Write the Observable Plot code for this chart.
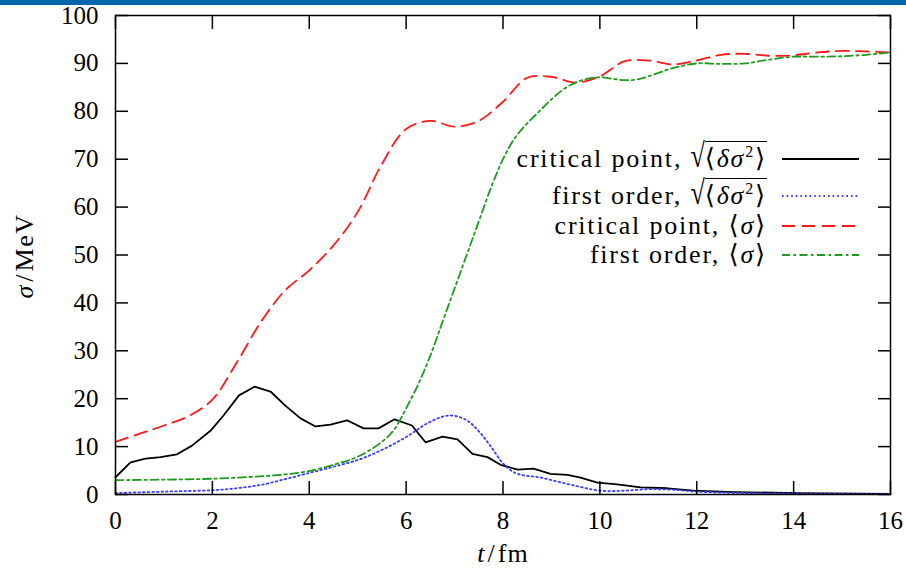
<!DOCTYPE html>
<html><head><meta charset="utf-8">
<script src="https://cdn.jsdelivr.net/npm/d3@7"></script>
<script src="https://cdn.jsdelivr.net/npm/@observablehq/plot@0.6"></script>
<style>
html,body{margin:0;padding:0;background:#fff;}
#wrap{position:relative;width:906px;height:568px;overflow:hidden;font-family:"Liberation Serif","DejaVu Serif","Times New Roman",serif;color:#000;}
#bar{position:absolute;left:0;top:0;width:906px;height:5px;background:#0066ad;z-index:2;}
#chart{position:absolute;left:0;top:0;}
.leg{position:absolute;right:139px;font-size:26px;line-height:25px;letter-spacing:1.8px;white-space:nowrap;height:25px;}
.rad{display:inline-block;transform:scaleY(1.3);transform-origin:50% 80%;letter-spacing:0;}
.ov{border-top:1.6px solid #000;padding-top:2px;}
.ov sup{font-size:16px;line-height:0;vertical-align:10px;}
.smp{position:absolute;left:782px;}
</style></head>
<body><div id="wrap"><div id="bar"></div><div id="chart"></div></div>
<script>
// ---- data ----
const xTicks = [0,2,4,6,8,10,12,14,16];
const yTicks = [0,10,20,30,40,50,60,70,80,90,100];

const critSqrtT = [0,0.31,0.62,0.93,1.27,1.58,1.96,2.23,2.55,2.87,3.2,3.5,3.82,4.13,4.44,4.78,5.12,5.43,5.76,6.12,6.4,6.75,7.06,7.37,7.68,7.95,8.3,8.63,8.98,9.33,9.6,9.95,10.36,10.84,11.4,11.93,12.77,14.1,16];
const critSqrtV = [3.6,6.7,7.5,7.8,8.4,10.2,13.3,16.5,20.7,22.5,21.5,18.6,15.9,14.2,14.6,15.5,13.8,13.8,15.7,14.4,10.9,12.1,11.5,8.5,7.8,6.2,5.2,5.4,4.3,4.1,3.5,2.5,2.1,1.5,1.3,0.8,0.5,0.3,0.1];

const firstSqrtT = [0,1,2,2.5,3,3.5,4,4.5,5,5.5,6,6.5,6.9,7.25,7.5,7.75,8,8.25,8.5,8.75,9,9.5,10,10.5,11,11.5,12,13,14,15,16];
const firstSqrtV = [0.3,0.6,0.9,1.3,2.0,3.2,4.5,5.8,7.2,9.3,12,15.2,16.5,15.5,13.2,10,6.5,4.5,3.9,3.6,3.0,1.8,0.8,0.8,1.1,1.0,0.6,0.3,0.2,0.1,0.1];

const critMeanT = [0,0.5,1,1.5,2,2.5,3,3.5,4,4.5,5,5.5,6,6.5,7,7.5,8,8.5,9,9.5,10,10.5,11,11.5,12,12.5,13,13.5,14,14.5,15,15.5,16];
const critMeanV = [11,12.7,14.4,16.3,19.8,27.5,36,42.6,46.8,52,59,69,76.3,78,76.8,78,82,87,87.2,86,87.3,90.4,90.6,89.8,90.6,91.8,92,91.6,91.7,92.3,92.6,92.5,92.3];

const firstMeanT = [0,1,2,3,3.5,4,4.5,5,5.5,5.75,6,6.25,6.5,6.75,7,7.25,7.5,7.75,8,8.25,8.5,8.75,9,9.25,9.5,9.75,10,10.25,10.5,10.75,11,11.5,12,12.5,13,13.5,14,14.5,15,15.5,16];
const firstMeanV = [3.0,3.1,3.3,3.8,4.2,4.9,6.2,7.9,11,13.5,18,23,29,36,43,50,57,64,70,74.5,77.5,80,82.5,84.6,86,86.8,87.1,86.8,86.5,86.6,87.3,89,90,89.9,90,90.8,91.4,91.4,91.5,91.8,92.3];

const series = [
  {key:"critSqrt", t:critSqrtT, v:critSqrtV, stroke:"#000000", width:1.8, dash:null, curve:"linear"},
  {key:"firstSqrt", t:firstSqrtT, v:firstSqrtV, stroke:"#3a3aff", width:1.8, dash:"1.6,3", curve:"catmull-rom"},
  {key:"critMean", t:critMeanT, v:critMeanV, stroke:"#ff1a1a", width:1.8, dash:"13,7", curve:"catmull-rom"},
  {key:"firstMean", t:firstMeanT, v:firstMeanV, stroke:"#1f9a1f", width:1.8, dash:"8,3.5,2.5,3.5", curve:"catmull-rom"}
];
const toRows = s => s.t.map((t,i)=>({t, v:s.v[i]}));
const FONT = "'Liberation Serif', 'DejaVu Serif', 'Times New Roman', serif";

const chart = Plot.plot({
  width: 906, height: 568,
  marginLeft: 115, marginRight: 16, marginTop: 15, marginBottom: 74,
  style: {fontFamily: FONT, fontSize: "25px", background: "transparent", color:"#000"},
  x: {domain: [0,16], label: null},
  y: {domain: [0,100], label: null},
  marks: [
    ...series.map(s => Plot.line(toRows(s), {x:"t", y:"v", stroke:s.stroke, strokeWidth:s.width, strokeDasharray:s.dash, curve:s.curve})),
    Plot.axisX({anchor:"bottom", ticks:xTicks, tickSize:0, tickPadding:17, label:null, tickFormat:d=>String(d), fontFamily:FONT}),
    Plot.axisY({anchor:"left", ticks:yTicks, tickSize:0, tickPadding:17, label:null, tickFormat:d=>String(d), fontFamily:FONT}),
    Plot.axisX({anchor:"bottom", ticks:xTicks, tickSize:-13, label:null, tickFormat:()=>"", strokeWidth:1.5}),
    Plot.axisX({anchor:"top", ticks:xTicks, tickSize:-13, label:null, tickFormat:()=>"", strokeWidth:1.5}),
    Plot.axisY({anchor:"left", ticks:yTicks, tickSize:-13, label:null, tickFormat:()=>"", strokeWidth:1.5}),
    Plot.axisY({anchor:"right", ticks:yTicks, tickSize:-13, label:null, tickFormat:()=>"", strokeWidth:1.5}),
    Plot.frame({stroke:"#000", strokeWidth:1.5})
  ]
});
document.getElementById("chart").appendChild(chart);

// axis titles with italic symbols
const svg = d3.select(chart);
const xt = svg.append("text").attr("x", 503).attr("y", 562).attr("text-anchor","middle")
  .style("font-family", FONT).attr("font-size", 26).attr("fill","#000");
xt.append("tspan").attr("font-style","italic").style("letter-spacing","3px").text("t");
xt.append("tspan").style("letter-spacing","3px").text("/");
xt.append("tspan").style("letter-spacing","1px").text("fm");
const yt = svg.append("text").attr("transform","translate(33,256) rotate(-90)").attr("text-anchor","middle")
  .style("font-family", FONT).attr("font-size", 26).attr("fill","#000");
yt.append("tspan").attr("font-style","italic").style("letter-spacing","4px").text("σ");
yt.append("tspan").style("letter-spacing","3px").text("/");
yt.append("tspan").style("letter-spacing","1.5px").text("MeV");

// legend
const legendLabels = [
  {name:"critical point, ", sqrt:true},
  {name:"first order, ", sqrt:true},
  {name:"critical point, ", sqrt:false},
  {name:"first order, ", sqrt:false}
];
const legendTop = [146, 183, 213, 242];
const wrap = document.getElementById("wrap");
legendLabels.forEach((L,i) => {
  const d = document.createElement("div");
  d.className = "leg";
  d.style.top = legendTop[i] + "px";
  d.innerHTML = L.sqrt
    ? L.name + '<span class="rad">√</span><span class="ov">⟨<i>δσ</i><sup>2</sup>⟩</span>'
    : L.name + '⟨<i>σ</i>⟩';
  wrap.appendChild(d);
  const s = series[i];
  const ns = "http://www.w3.org/2000/svg";
  const sv = document.createElementNS(ns, "svg");
  sv.setAttribute("class","smp"); sv.setAttribute("width", 78); sv.setAttribute("height", 10);
  sv.style.top = (legendTop[i] + 8) + "px";
  const ln = document.createElementNS(ns, "line");
  ln.setAttribute("x1", 0); ln.setAttribute("x2", 77); ln.setAttribute("y1", 5); ln.setAttribute("y2", 5);
  ln.setAttribute("stroke", s.stroke); ln.setAttribute("stroke-width", s.width);
  if (s.dash) ln.setAttribute("stroke-dasharray", s.dash);
  sv.appendChild(ln);
  wrap.appendChild(sv);
});
</script></body></html>
